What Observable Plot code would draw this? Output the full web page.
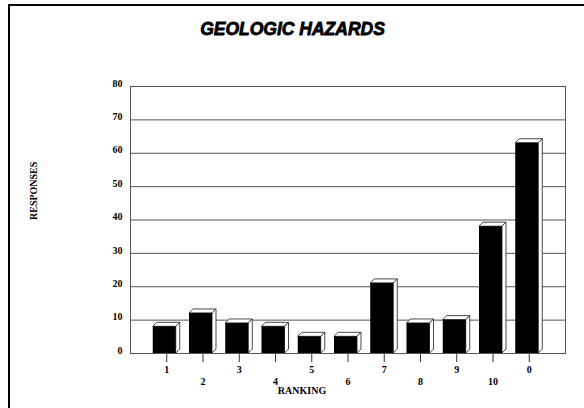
<!DOCTYPE html>
<html>
<head>
<meta charset="utf-8">
<script src="https://cdn.jsdelivr.net/npm/d3@7"></script>
<script src="https://cdn.jsdelivr.net/npm/@observablehq/plot@0.6"></script>
<style>
  html, body { margin: 0; padding: 0; background: #fff; }
  #wrap { position: relative; width: 584px; height: 408px; overflow: hidden; }
  #border {
    position: absolute; left: 8px; top: 4px; width: 700px; height: 600px;
    border-left: 2px solid #000; border-top: 2px solid #000; pointer-events: none;
  }
  #wrap svg { position: absolute; left: 0; top: 0; }
</style>
</head>
<body>
<div id="wrap"><div id="border"></div></div>
<script>
// Survey: ranking given to geologic hazards, and how many responses each got
const rankings = ["1", "2", "3", "4", "5", "6", "7", "8", "9", "10", "0"];
const responses = [8, 12, 9, 8, 5, 5, 21, 9, 10, 38, 63];
const yTicks = [0, 10, 20, 30, 40, 50, 60, 70, 80];

const data = rankings.map((r, i) => ({ranking: r, responses: responses[i], row: i % 2}));

const serif = "'Liberation Serif', 'DejaVu Serif', serif";
const gridColor = "#555";
const depth = 4;   // extrusion of the 3-D bars, px
const shift = 2;   // front face sits left of the band centre by this much

// top and right-hand faces of each bar, drawn behind the black front face
function extrusions(index, scales) {
  const x = scales.x, y = scales.y;
  const bw = x.bandwidth ? x.bandwidth() : 0;
  const g = d3.create("svg:g")
    .attr("fill", "#fff").attr("stroke", "#333").attr("stroke-width", 0.9)
    .attr("stroke-linejoin", "round");
  for (const d of data) {
    const l = x(d.ranking) - shift, r = l + bw;
    const t = y(d.responses), b = y(0);
    g.append("path").attr("d",
      `M${l},${t}L${l + depth},${t - depth}L${r + depth},${t - depth}L${r},${t}Z`);
    g.append("path").attr("d",
      `M${r},${t}L${r + depth},${t - depth}L${r + depth},${b - depth}L${r},${b}Z`);
  }
  return g.node();
}

const chart = Plot.plot({
  width: 584,
  height: 408,
  marginLeft: 130,
  marginRight: 19,
  marginTop: 86,
  marginBottom: 55,
  style: {background: "transparent", fontFamily: serif, fontSize: "10px", color: "#333"},
  x: {domain: rankings, paddingInner: 0.365, paddingOuter: 0.6825, round: false,
      tickSize: 9, tickFormat: () => "", label: null},
  y: {domain: [0, 80], axis: null},
  marks: [
    Plot.ruleY(yTicks, {stroke: gridColor, strokeWidth: 1}),
    Plot.frame({stroke: gridColor}),
    extrusions,
    Plot.barY(data, {x: "ranking", y: "responses", fill: "#000", dx: -shift}),
    // y tick labels
    Plot.text(yTicks, {y: d => d, text: d => String(d), frameAnchor: "left",
      textAnchor: "end", dx: -8, dy: -3, fill: "#000", fontWeight: "bold", fontFamily: serif}),
    // staggered x tick labels
    Plot.text(data.filter(d => d.row === 0), {x: "ranking", text: "ranking", frameAnchor: "bottom",
      dy: 19, fill: "#000", fontWeight: "bold", fontFamily: serif}),
    Plot.text(data.filter(d => d.row === 1), {x: "ranking", text: "ranking", frameAnchor: "bottom",
      dy: 31, fill: "#000", fontWeight: "bold", fontFamily: serif}),
    // axis titles
    Plot.text(["RANKING"], {frameAnchor: "bottom", dx: -46, dy: 40, fill: "#000",
      fontWeight: "bold", fontFamily: serif}),
    Plot.text(["RESPONSES"], {frameAnchor: "left", dx: -97, rotate: -90, fill: "#000",
      fontWeight: "bold", fontFamily: serif}),
    // chart title
    Plot.text(["GEOLOGIC HAZARDS"], {frameAnchor: "top", dx: -55.5, dy: -64, fill: "#000",
      stroke: "#000", strokeWidth: 0.8, fontSize: 17.5, fontWeight: "bold", fontStyle: "italic",
      fontFamily: "'Liberation Sans', Arial, sans-serif", letterSpacing: "0.7px"})
  ]
});

document.getElementById("wrap").insertBefore(chart, document.getElementById("border"));
</script>
</body>
</html>
